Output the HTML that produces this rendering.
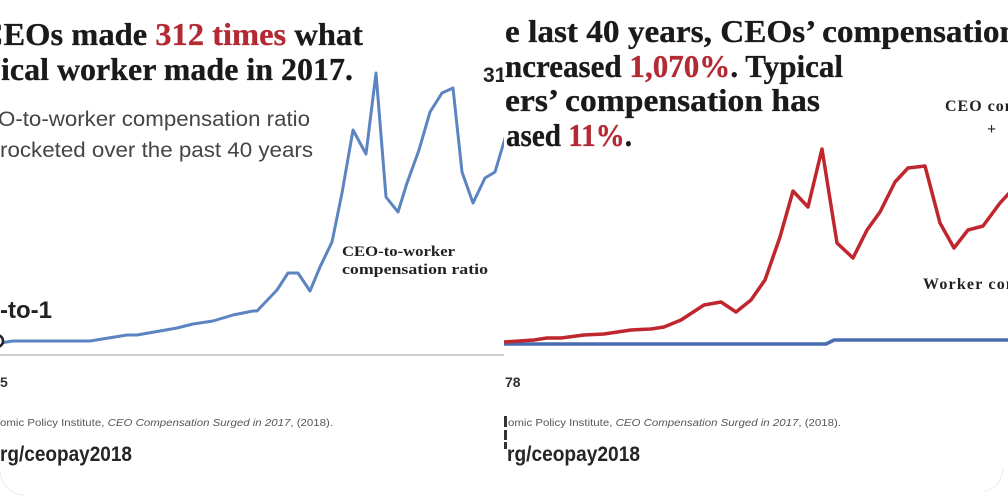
<!DOCTYPE html>
<html>
<head>
<meta charset="utf-8">
<style>
  html,body{margin:0;padding:0;background:#fff;}
  body{width:1008px;height:504px;overflow:hidden;}
  svg{display:block;}
  .ser{font-family:"Liberation Serif",serif;font-weight:bold;}
  .san{font-family:"Liberation Sans",sans-serif;}
</style>
</head>
<body>
<svg width="1008" height="504" viewBox="0 0 1008 504" xmlns="http://www.w3.org/2000/svg">
  <rect x="0" y="0" width="1008" height="504" fill="#fff"/>

  <!-- ===== LEFT PANEL ===== -->
  <g>
    <text class="ser" x="-20" y="45" font-size="32" fill="#1a1a1a" stroke="#1a1a1a" stroke-width="0.3" textLength="383" lengthAdjust="spacingAndGlyphs">CEOs made <tspan fill="#b32a34" stroke="#b32a34">312 times</tspan> what</text>
    <text class="ser" x="1" y="80" font-size="32" fill="#1a1a1a" stroke="#1a1a1a" stroke-width="0.3" textLength="352" lengthAdjust="spacingAndGlyphs">ical worker made in 2017.</text>

    <text class="san" x="-2" y="126" font-size="21" fill="#454545" textLength="312" lengthAdjust="spacingAndGlyphs">O-to-worker compensation ratio</text>
    <text class="san" x="0" y="157" font-size="21" fill="#454545" textLength="313" lengthAdjust="spacingAndGlyphs">rocketed over the past 40 years</text>

    <text class="san" x="483" y="82" font-size="21" font-weight="bold" fill="#222">31</text>

    <!-- axis -->
    <line x1="0" y1="355" x2="504" y2="355" stroke="#cfcfcf" stroke-width="2"/>

    <!-- ratio line -->
    <polyline fill="none" stroke="#5b84c0" stroke-width="3" stroke-linejoin="round"
      points="0,343 13,341 90,341 127,335 137,335 177,328 193,324 213,321 233,315 253,311 257,311 277,290 288,273 298,273 310,291 320,267 332,242 342,193 353,130 366,154 376,73 386,197 398,212 407,183 419,150 430,112 442,93 453,88 462,172 473,203 485,178 495,172 506,135"/>
    <circle cx="-3" cy="341" r="6" fill="#fff" stroke="#222" stroke-width="2.5"/>

    <text class="ser" x="342" y="256" font-size="15" fill="#222" textLength="113" lengthAdjust="spacingAndGlyphs">CEO-to-worker</text>
    <text class="ser" x="342" y="274" font-size="15" fill="#222" textLength="146" lengthAdjust="spacingAndGlyphs">compensation ratio</text>

    <text class="san" x="0" y="318" font-size="24" font-weight="bold" fill="#222" textLength="52" lengthAdjust="spacingAndGlyphs">-to-1</text>

    <text class="san" x="0" y="387" font-size="14" font-weight="bold" fill="#333">5</text>

    <text class="san" x="0" y="426" font-size="10" fill="#555" textLength="333" lengthAdjust="spacingAndGlyphs">omic Policy Institute, <tspan font-style="italic">CEO Compensation Surged in 2017</tspan>, (2018).</text>
    <text class="san" x="0" y="461" font-size="21" font-weight="bold" fill="#252525" textLength="132" lengthAdjust="spacingAndGlyphs">rg/ceopay2018</text>

    <path d="M0,470 A25,25 0 0 0 25,495" fill="none" stroke="#ececec" stroke-width="1"/>
  </g>

  <!-- ===== RIGHT PANEL ===== -->
  <rect x="504" y="0" width="504" height="504" fill="#fff"/>
  <g>
    <text class="ser" x="505" y="42" font-size="32" fill="#1a1a1a" stroke="#1a1a1a" stroke-width="0.3" textLength="513" lengthAdjust="spacingAndGlyphs">e last 40 years, CEOs’ compensation</text>
    <text class="ser" x="505" y="77" font-size="32" fill="#1a1a1a" stroke="#1a1a1a" stroke-width="0.3" textLength="338" lengthAdjust="spacingAndGlyphs">ncreased <tspan fill="#b32a34" stroke="#b32a34">1,070%</tspan>. Typical</text>
    <text class="ser" x="505" y="111" font-size="32" fill="#1a1a1a" stroke="#1a1a1a" stroke-width="0.3" textLength="315" lengthAdjust="spacingAndGlyphs">ers’ compensation has</text>
    <text class="ser" x="506" y="146" font-size="32" fill="#1a1a1a" stroke="#1a1a1a" stroke-width="0.3" textLength="126" lengthAdjust="spacingAndGlyphs">ased <tspan fill="#b32a34" stroke="#b32a34">11%</tspan>.</text>

    <text class="ser" x="945" y="111" font-size="16" fill="#222" letter-spacing="1">CEO compensation</text>
    <text class="ser" x="987" y="134" font-size="16" fill="#222" letter-spacing="4">+ 1,070%</text>

    <text class="ser" x="923" y="289" font-size="16" fill="#222" letter-spacing="1.2">Worker compensation</text>

    <!-- worker line -->
    <polyline fill="none" stroke="#4a6db2" stroke-width="3.5" stroke-linejoin="round"
      points="504,344 826,344 834,340 1010,340"/>
    <!-- CEO comp line -->
    <polyline fill="none" stroke="#c0262e" stroke-width="3.5" stroke-linejoin="round"
      points="504,342 534,340 547,338 561,338 584,335 604,334 631,330 651,329 664,327 681,320 704,305 721,302 736,312 751,300 765,280 780,237 793,191 808,207 822,149 837,243 853,258 867,230 880,212 895,182 908,168 925,166 940,223 954,248 968,230 983,226 1000,203 1012,190"/>

    <text class="san" x="505" y="387" font-size="14" font-weight="bold" fill="#333">78</text>

    <text class="san" x="508" y="426" font-size="10" fill="#555" textLength="333" lengthAdjust="spacingAndGlyphs">omic Policy Institute, <tspan font-style="italic">CEO Compensation Surged in 2017</tspan>, (2018).</text>
    <text class="san" x="507" y="461" font-size="21" font-weight="bold" fill="#252525" textLength="133" lengthAdjust="spacingAndGlyphs">rg/ceopay2018</text>

    <rect x="504" y="416" width="3" height="11" fill="#333"/>
    <rect x="504" y="430" width="3" height="10" fill="#333"/>
    <rect x="504" y="442" width="3" height="7" fill="#333"/>

    <path d="M1003,468 A24,24 0 0 1 983,492" fill="none" stroke="#ececec" stroke-width="1"/>
  </g>
</svg>
</body>
</html>
